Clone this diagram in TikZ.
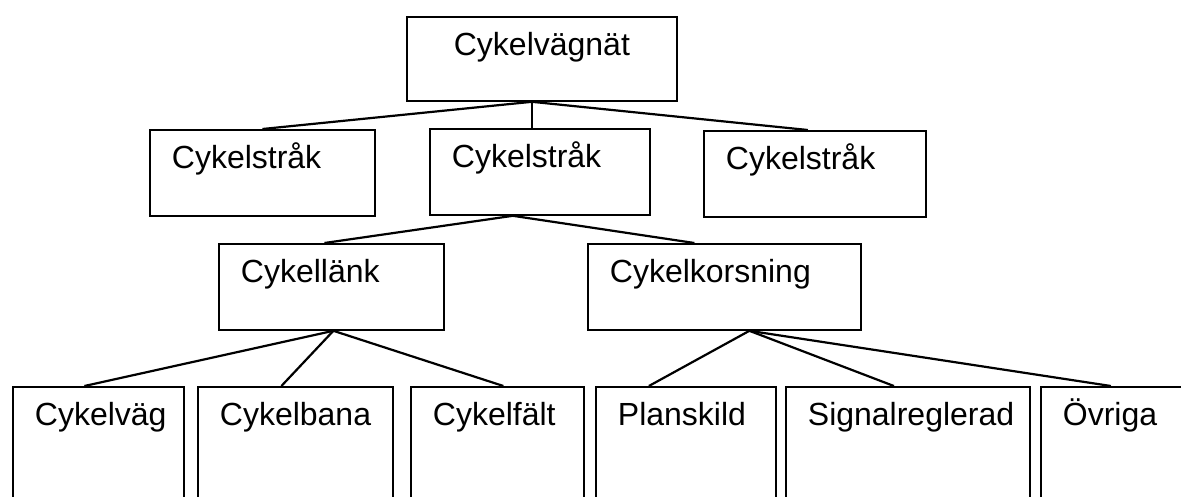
\documentclass[tikz,border=0pt]{standalone}
\usepackage{fontspec}
\setmainfont{Liberation Sans}

\tikzset{
  box/.style={draw, line width=1.8pt, anchor=north west, inner xsep=22pt, inner ysep=0pt,
    text height=39pt, text depth=47pt, text width=#1, align=left,
    font=\fontsize{32}{38}\selectfont},
  leaf/.style={box=#1, text depth=101pt},
  link/.style={line width=2.2pt}
}

\begin{document}
\begin{tikzpicture}[x=1pt,y=-1pt]

    \useasboundingbox (0,0) rectangle (1181,496);
    \clip (0,0) rectangle (1181,496);

    % network and main routes
    \node[box=226pt, align=center, text depth=45pt] (natet) at (406,16) {Cykelvägnät};
    \node[box=181pt] (strakA) at (149,129) {Cykelstråk};
    \node[box=176pt] (strakB) at (429,128) {Cykelstråk};
    \node[box=178pt] (strakC) at (703,130) {Cykelstråk};

    % links and crossings
    \node[box=181pt] (lank) at (218,243) {Cykellänk};
    \node[box=229pt] (korsning) at (587,243) {Cykelkorsning};

    \node[leaf=127pt] (vag) at (12,386) {Cykelväg};
    \node[leaf=151pt] (bana) at (197,386) {Cykelbana};
    \node[leaf=129pt] (falt) at (410,386) {Cykelfält};
    \node[leaf=136pt] (planskild) at (595,386) {Planskild};
    \node[leaf=200pt] (signal) at (785,386) {Signalreglerad};
    \node[leaf=126pt] (ovriga) at (1040,386) {Övriga};

    \draw[link] ([xshift=-10pt]natet.south) -- (strakA.north);
    \draw[link] ([xshift=-10pt]natet.south) -- ([xshift=-8pt]strakB.north);
    \draw[link] ([xshift=-10pt]natet.south) -- ([xshift=-7pt]strakC.north);

    \draw[link] ([xshift=-27pt]strakB.south) -- ([xshift=-7pt]lank.north);
    \draw[link] ([xshift=-27pt]strakB.south) -- ([xshift=-30pt]korsning.north);

    \draw[link] ([xshift=2pt]lank.south) -- ([xshift=-14pt]vag.north);
    \draw[link] ([xshift=2pt]lank.south) -- ([xshift=-14pt]bana.north);
    \draw[link] ([xshift=2pt]lank.south) -- ([xshift=6pt]falt.north);

    \draw[link] ([xshift=25pt]korsning.south) -- ([xshift=-37pt]planskild.north);
    \draw[link] ([xshift=25pt]korsning.south) -- ([xshift=-14pt]signal.north);
    \draw[link] ([xshift=25pt]korsning.south) -- ([xshift=-15pt]ovriga.north);

\end{tikzpicture}
\end{document}
